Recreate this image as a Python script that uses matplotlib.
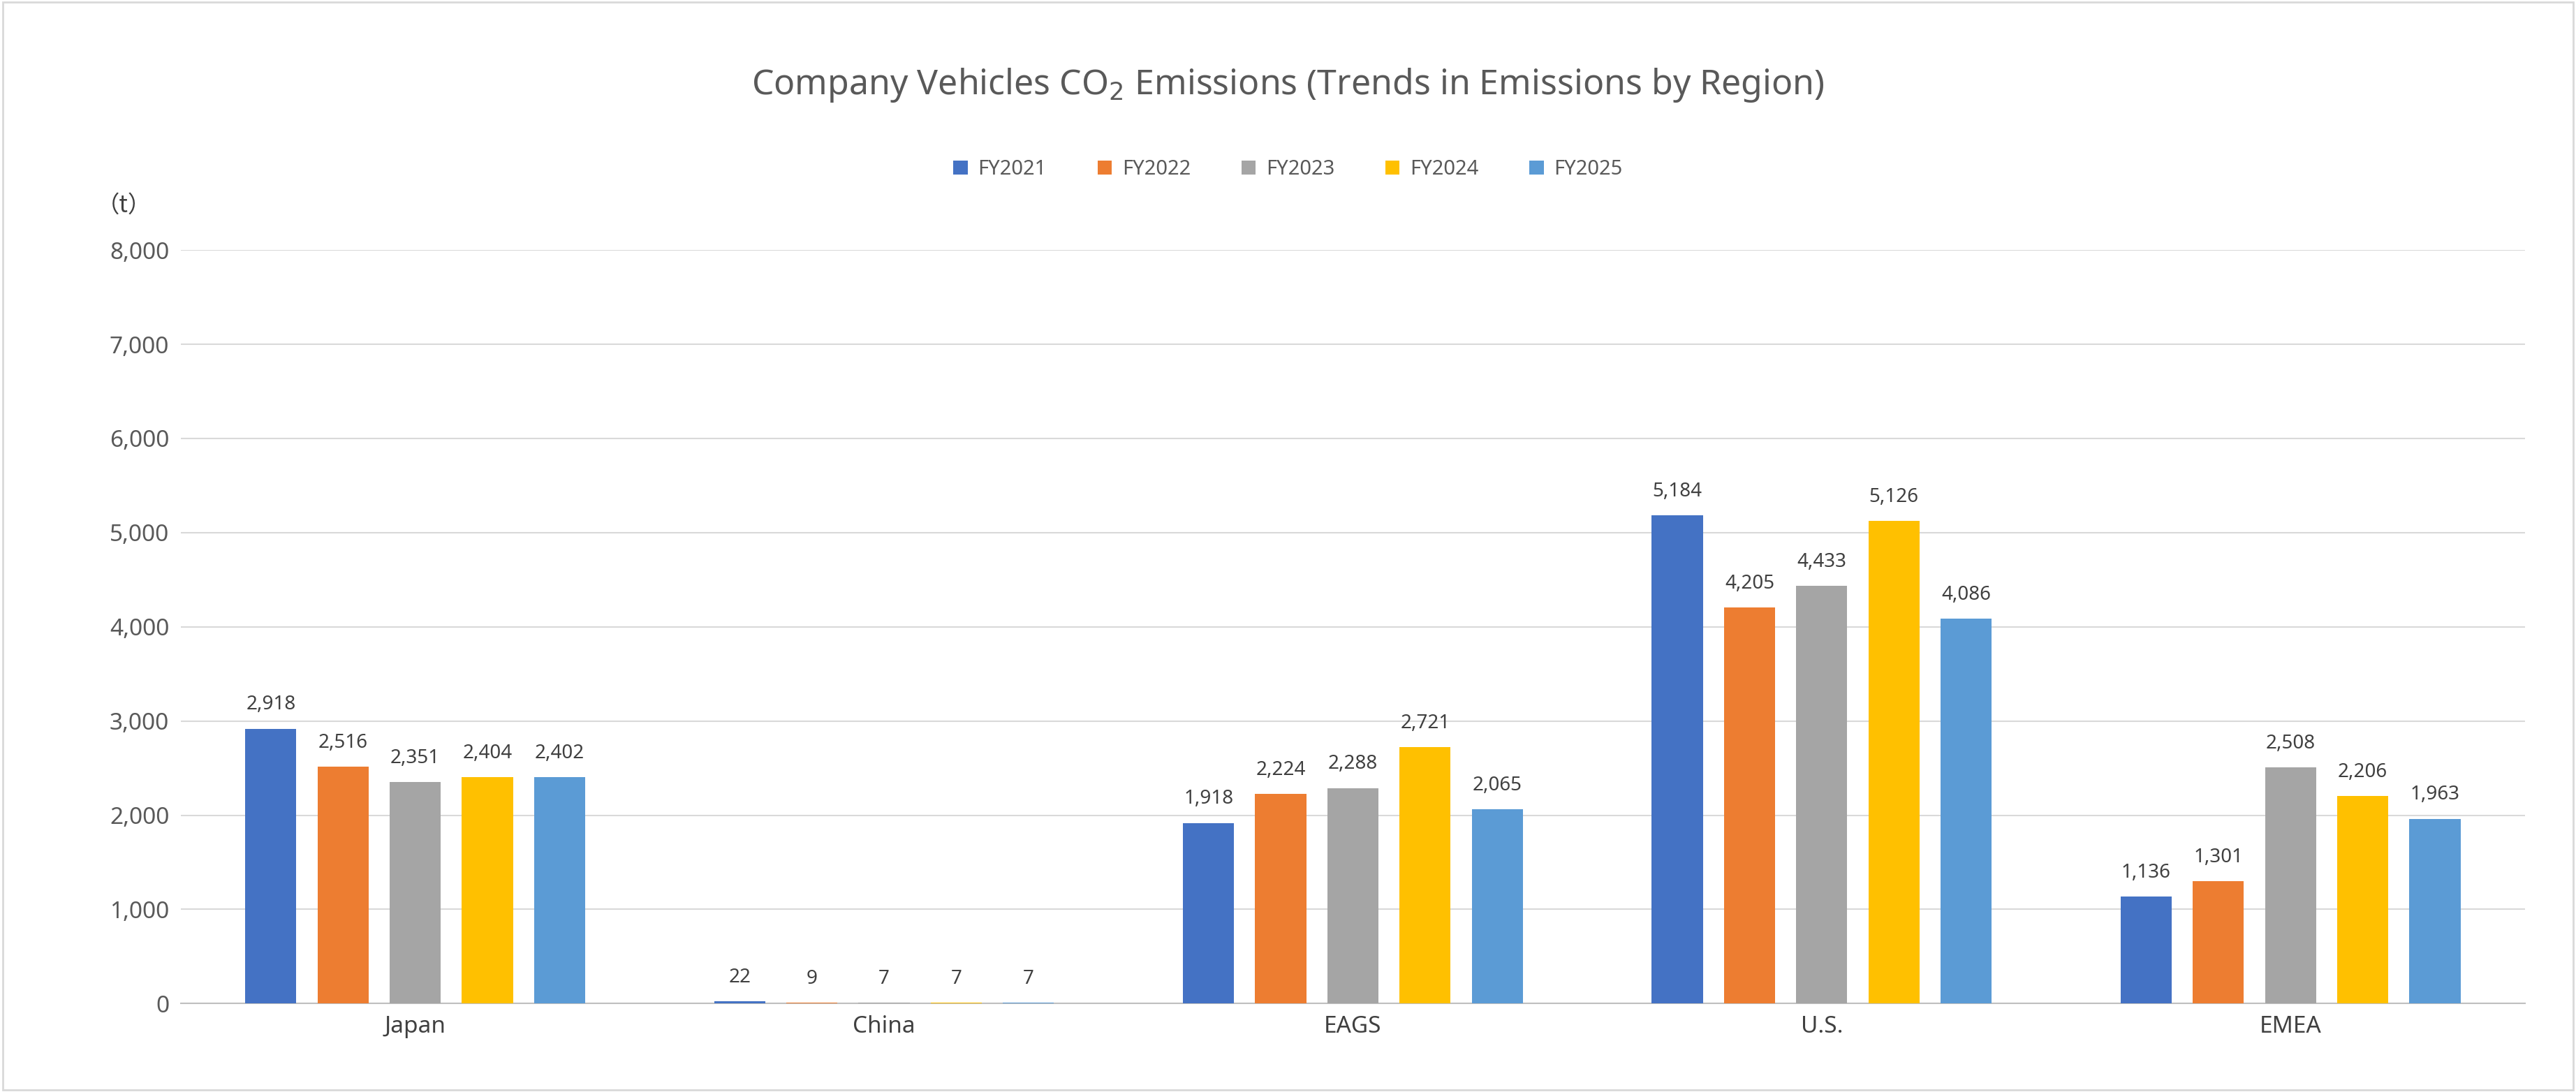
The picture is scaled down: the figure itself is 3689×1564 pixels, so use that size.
import matplotlib
matplotlib.use("Agg")
import matplotlib.pyplot as plt
import numpy as np
from matplotlib.patches import Rectangle

plt.rcParams['font.family'] = ['Noto Sans', 'DejaVu Sans']

regions = ["Japan", "China", "EAGS", "U.S.", "EMEA"]
series = ["FY2021", "FY2022", "FY2023", "FY2024", "FY2025"]
fy2021 = [2918, 22, 1918, 5184, 1136]
fy2022 = [2516, 9, 2224, 4205, 1301]
fy2023 = [2351, 7, 2288, 4433, 2508]
fy2024 = [2404, 7, 2721, 5126, 2206]
fy2025 = [2402, 7, 2065, 4086, 1963]
values = [fy2021, fy2022, fy2023, fy2024, fy2025]
colors = ["#4472C4", "#ED7D31", "#A5A5A5", "#FFC000", "#5B9BD5"]

fig = plt.figure(figsize=(36.89, 15.64), dpi=100)
ax = fig.add_axes([0.0702, 0.081, 0.910, 0.690])
x = np.arange(len(regions))
step = 0.154
w = 0.109
for i, (s, v, c) in enumerate(zip(series, values, colors)):
    pos = x + (i - 2) * step
    ax.bar(pos, v, width=w, color=c, label=s, zorder=3)
    for p, val in zip(pos, v):
        ax.text(p, val + 150, f"{val:,}", ha="center", va="bottom", fontsize=20, color="#404040")

ax.set_xlim(-0.5, 4.5)
ax.set_ylim(0, 8000)
ax.set_yticks(range(0, 8001, 1000))
ax.set_yticklabels([f"{t:,}" for t in range(0, 8001, 1000)], fontsize=24, color="#595959")
ax.set_xticks(x)
ax.set_xticklabels(regions, fontsize=24, color="#404040")
ax.grid(axis="y", color="#D9D9D9", linewidth=1.5, zorder=0)
for sp in ["top", "right", "left"]:
    ax.spines[sp].set_visible(False)
ax.spines["bottom"].set_color("#BFBFBF")
ax.spines["bottom"].set_linewidth(1.5)
ax.tick_params(axis="both", length=0, pad=12)

fig.text(0.5, 0.922, "Company Vehicles CO$_2$ Emissions (Trends in Emissions by Region)",
         ha="center", va="center", fontsize=36, fontweight="bold", color="#595959")
fig.text(0.048, 0.812, "（t）", ha="center", va="center", fontsize=24, color="#404040",
         family=['Noto Sans CJK SC', 'DejaVu Sans'])
fig.legend(loc="center", bbox_to_anchor=(0.5, 0.845), ncol=5, frameon=False, fontsize=21,
           handlelength=0.7, handleheight=0.7, columnspacing=2.5, handletextpad=0.5,
           labelcolor="#595959")
fig.patches.append(Rectangle((0.001, 0.002), 0.998, 0.996, transform=fig.transFigure,
                             fill=False, edgecolor="#D9D9D9", linewidth=2))
fig.savefig("out.png", dpi=100, facecolor="white")
